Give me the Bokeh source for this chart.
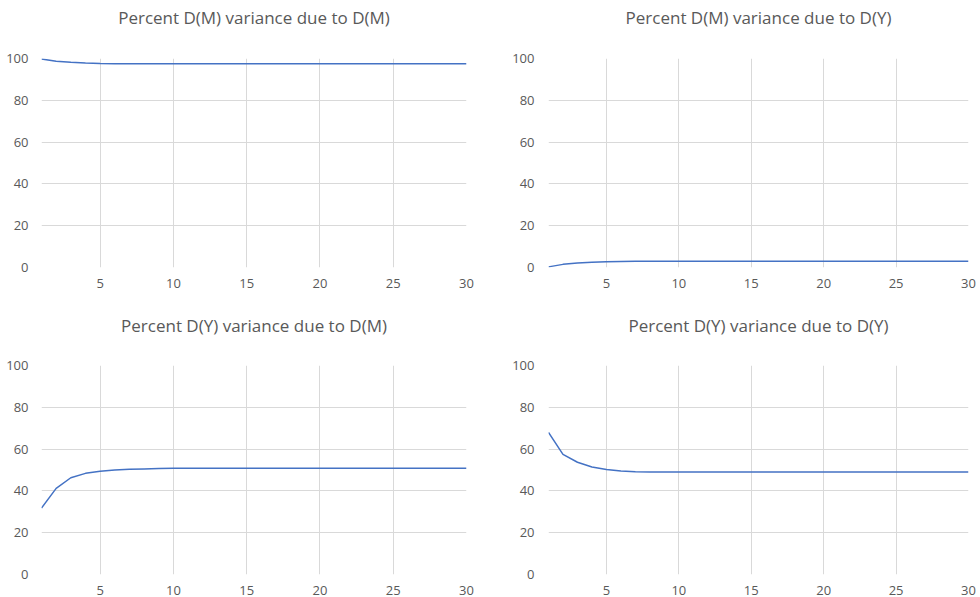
from bokeh.plotting import figure
from bokeh.models import FixedTicker, Range1d, Title
from bokeh.layouts import gridplot
from bokeh.embed import file_html
from bokeh.resources import INLINE

horizon = list(range(1, 31))

dm_due_dm = [99.8, 98.7, 98.2, 97.8, 97.6, 97.5, 97.5, 97.5, 97.5, 97.5,
             97.5, 97.5, 97.5, 97.5, 97.5, 97.5, 97.5, 97.5, 97.5, 97.5,
             97.5, 97.5, 97.5, 97.5, 97.5, 97.5, 97.5, 97.5, 97.5, 97.5]
dm_due_dy = [0.3, 1.5, 2.1, 2.5, 2.8, 2.9, 3.0, 3.0, 3.0, 3.0,
             3.0, 3.0, 3.0, 3.0, 3.0, 3.0, 3.0, 3.0, 3.0, 3.0,
             3.0, 3.0, 3.0, 3.0, 3.0, 3.0, 3.0, 3.0, 3.0, 3.0]
dy_due_dm = [31.8, 41.2, 46.3, 48.4, 49.4, 50.0, 50.3, 50.5, 50.7, 50.8,
             50.8, 50.8, 50.8, 50.8, 50.8, 50.8, 50.8, 50.8, 50.8, 50.8,
             50.8, 50.8, 50.8, 50.8, 50.8, 50.8, 50.8, 50.8, 50.8, 50.8]
dy_due_dy = [68.0, 57.5, 53.7, 51.4, 50.2, 49.5, 49.2, 49.1, 49.1, 49.1,
             49.1, 49.1, 49.1, 49.1, 49.1, 49.1, 49.1, 49.1, 49.1, 49.1,
             49.1, 49.1, 49.1, 49.1, 49.1, 49.1, 49.1, 49.1, 49.1, 49.1]

titles = ["Percent D(M) variance due to D(M)", "Percent D(M) variance due to D(Y)",
          "Percent D(Y) variance due to D(M)", "Percent D(Y) variance due to D(Y)"]
series = [dm_due_dm, dm_due_dy, dy_due_dm, dy_due_dy]

x_ticks = [5, 10, 15, 20, 25, 30]
x_grid = [5, 10, 15, 20, 25]
y_ticks = [0, 20, 40, 60, 80, 100]
y_grid = [20, 40, 60, 80]

FONT = "Open Sans"
TXT = "#595959"


def make(i):
    top = i < 2
    left = i % 2 == 0
    p = figure(width=490, height=300 if top else 297,
               x_range=Range1d(1, 30), y_range=Range1d(0, 100),
               output_backend="svg", toolbar_location=None,
               min_border_left=41 if left else 58,
               min_border_right=24 if left else 12,
               min_border_top=58 if top else 65,
               min_border_bottom=33 if top else 20)
    # real title
    p.title.text = titles[i]
    p.title.align = "center"
    p.title.vertical_align = "middle"
    p.title.text_font = FONT
    p.title.text_font_size = "17px"
    p.title.text_font_style = "normal"
    p.title.text_color = TXT
    p.title.standoff = 0
    # blank spacer between the frame and the title
    p.add_layout(Title(text=" ", text_font=FONT, text_font_size="16px",
                       standoff=5 if top else 4), "above")
    p.outline_line_color = None
    p.background_fill_color = "white"
    p.border_fill_color = "white"

    p.xaxis.ticker = FixedTicker(ticks=x_ticks)
    p.yaxis.ticker = FixedTicker(ticks=y_ticks)
    p.xgrid.ticker = FixedTicker(ticks=x_grid)
    p.ygrid.ticker = FixedTicker(ticks=y_grid)
    p.xgrid.grid_line_color = "#d9d9d9"
    p.ygrid.grid_line_color = "#d9d9d9"
    for ax in (p.xaxis, p.yaxis):
        ax.axis_line_color = None
        ax.major_tick_line_color = None
        ax.minor_tick_line_color = None
        ax.major_label_text_font = FONT
        ax.major_label_text_font_size = "13px"
        ax.major_label_text_color = TXT
    p.xaxis.major_label_standoff = 5
    p.yaxis.major_label_standoff = 7 if left else 8

    p.line(horizon, series[i], line_color="#4472C4", line_width=1.5)
    return p


figs = [make(i) for i in range(4)]
grid = gridplot([[figs[0], figs[1]], [figs[2], figs[3]]], toolbar_location=None)

open("out.html", "w").write(file_html(grid, INLINE))
